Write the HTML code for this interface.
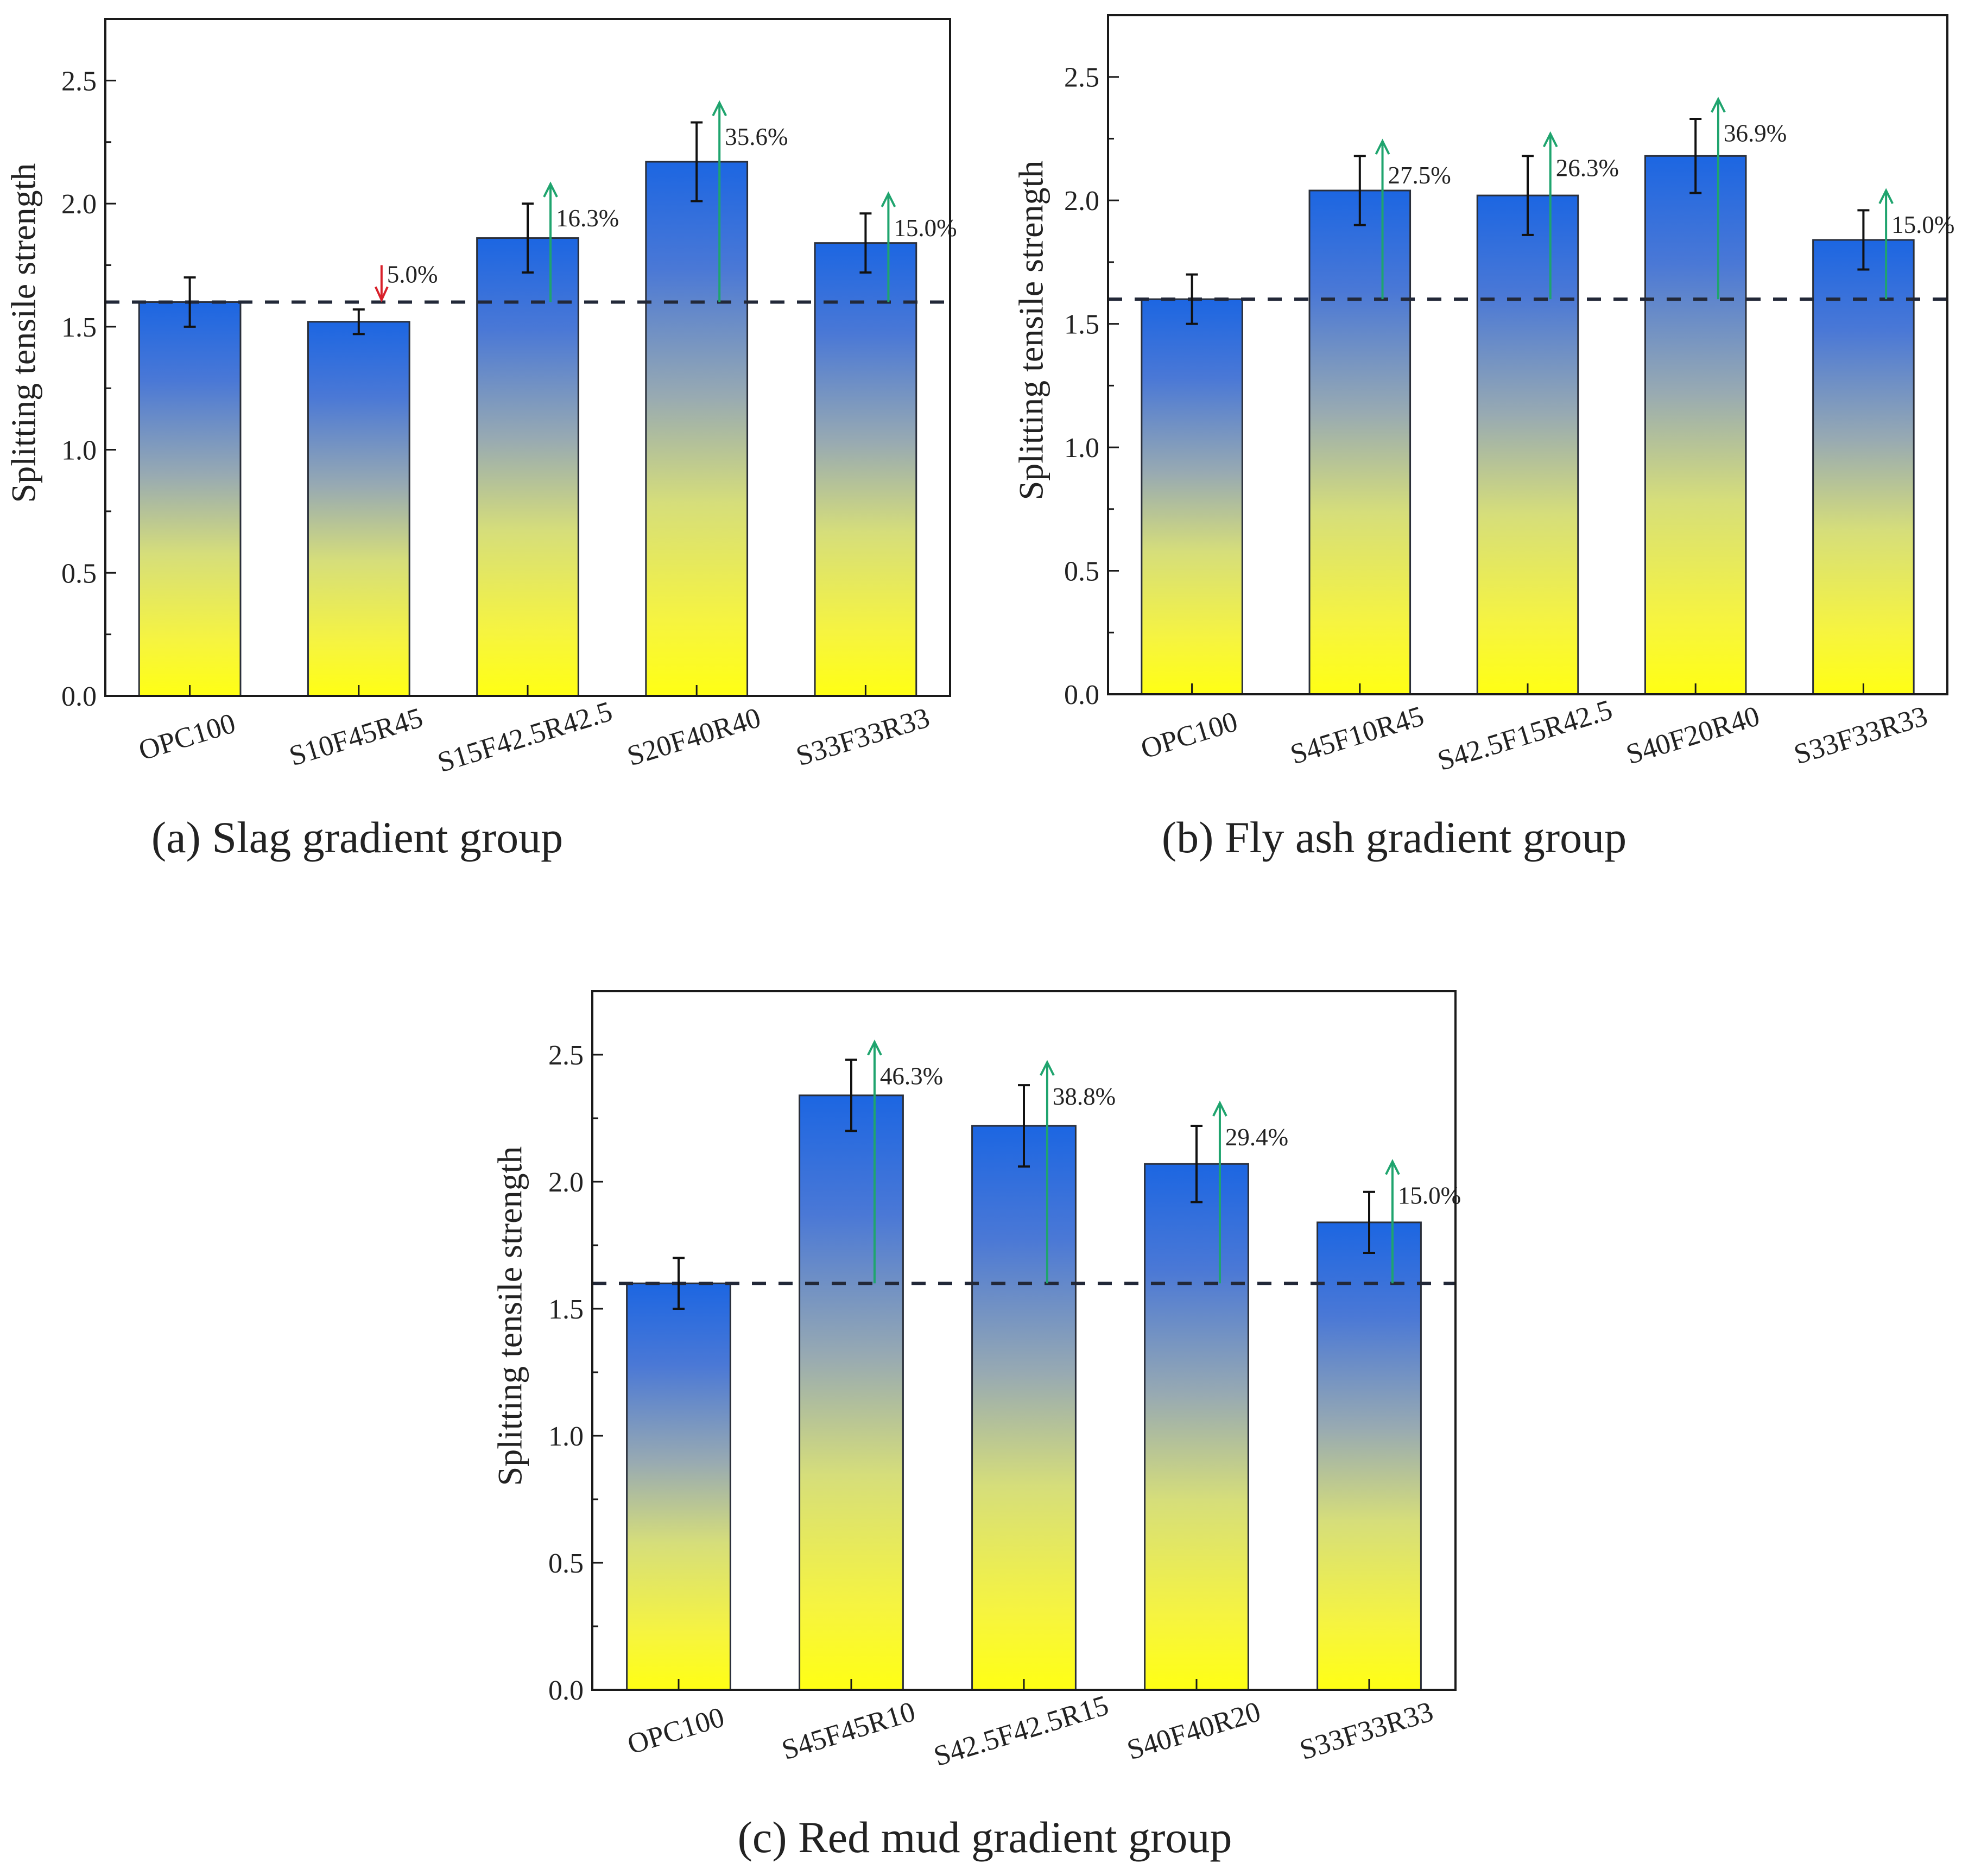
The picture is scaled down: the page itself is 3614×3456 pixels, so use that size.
<!DOCTYPE html>
<html><head><meta charset="utf-8"><style>
html,body{margin:0;padding:0;background:#fff;}
svg{display:block;}
text{font-family:"Liberation Serif",serif;fill:#222;}
</style></head><body>
<svg id="fig" width="3614" height="3456" viewBox="0 0 3614 3456" xmlns="http://www.w3.org/2000/svg">
<defs>
<linearGradient id="barGrad" x1="0" y1="0" x2="0" y2="1">
<stop offset="0" stop-color="#1c66e2"/>
<stop offset="0.2" stop-color="#4a78d6"/>
<stop offset="0.44" stop-color="#98aab2"/>
<stop offset="0.64" stop-color="#d6de7a"/>
<stop offset="0.86" stop-color="#f6f440"/>
<stop offset="1" stop-color="#ffff14"/>
</linearGradient>
</defs>
</svg>
<script>
// ---- data ----
const catsA = ["OPC100","S10F45R45","S15F42.5R42.5","S20F40R40","S33F33R33"];
const valsA = [1.60,1.52,1.86,2.17,1.84];
const errsA = [0.10,0.05,0.14,0.16,0.12];
const pctA  = ["","5.0%","16.3%","35.6%","15.0%"];
const arrowTopA = [null,1.75,2.08,2.41,2.04];

const catsB = ["OPC100","S45F10R45","S42.5F15R42.5","S40F20R40","S33F33R33"];
const valsB = [1.60,2.04,2.02,2.18,1.84];
const errsB = [0.10,0.14,0.16,0.15,0.12];
const pctB  = ["","27.5%","26.3%","36.9%","15.0%"];
const arrowTopB = [null,2.24,2.27,2.41,2.04];

const catsC = ["OPC100","S45F45R10","S42.5F42.5R15","S40F40R20","S33F33R33"];
const valsC = [1.60,2.34,2.22,2.07,1.84];
const errsC = [0.10,0.14,0.16,0.15,0.12];
const pctC  = ["","46.3%","38.8%","29.4%","15.0%"];
const arrowTopC = [null,2.55,2.47,2.31,2.08];

const yTicks = [0,0.5,1.0,1.5,2.0,2.5];
const yTickLabels = ["0.0","0.5","1.0","1.5","2.0","2.5"];
const baseline = 1.6;
const yMax = 2.75;

const NS = "http://www.w3.org/2000/svg";
const svg = document.getElementById('fig');
function mk(tag, attrs, parent){
  const e = document.createElementNS(NS, tag);
  for (const k in attrs) e.setAttribute(k, attrs[k]);
  (parent||svg).appendChild(e);
  return e;
}

function panel(key, L, R, T, B, cats, vals, errs, pcts, tops, titleX, caption, capX, capY){
  const g = mk('g', {});
  
  
  const n = cats.length;
  const xs = i => L + (i + 0.5) * (R - L) / n;
  const ys = v => B - v * (B - T) / yMax;
  const bw = 0.6 * (R - L) / n;
  const aoff = 0.135 * (R - L) / n;

  for (let i = 0; i < n; i++){
    const r = mk('rect', {x: xs(i)-bw/2, y: ys(vals[i]), width: bw, height: B - ys(vals[i]), fill: 'url(#barGrad)', stroke: '#2a2f3a', 'stroke-width': 3}, g);
    
    
  }
  const dl = mk('line', {x1: L, x2: R, y1: ys(baseline), y2: ys(baseline), stroke: '#222838', 'stroke-width': 6, 'stroke-dasharray': '26 23'}, g);
  
  
  for (let i = 0; i < n; i++){
    const eg = mk('g', {stroke: '#111', 'stroke-width': 4}, g);
    
    
    const cx = xs(i);
    mk('line', {x1: cx, x2: cx, y1: ys(vals[i]+errs[i]), y2: ys(vals[i]-errs[i])}, eg);
    mk('line', {x1: cx-11, x2: cx+11, y1: ys(vals[i]+errs[i]), y2: ys(vals[i]+errs[i])}, eg);
    mk('line', {x1: cx-11, x2: cx+11, y1: ys(vals[i]-errs[i]), y2: ys(vals[i]-errs[i])}, eg);
  }
  for (let i = 0; i < n; i++){
    if (tops[i] === null) continue;
    const ax = xs(i) + aoff;
    const down = vals[i] < baseline;
    const col = down ? '#d8202a' : '#1fa46e';
    const ag = mk('g', {stroke: col, 'stroke-width': 4, fill: 'none'}, g);
    
    
    if (down){
      const y1 = ys(tops[i]), y2 = ys(baseline) - 4;
      mk('line', {x1: ax, x2: ax, y1: y1, y2: y2}, ag);
      mk('polyline', {points: `${ax-11},${y2-24} ${ax},${y2} ${ax+11},${y2-24}`}, ag);
    } else {
      const y1 = ys(baseline), y2 = ys(tops[i]);
      mk('line', {x1: ax, x2: ax, y1: y1, y2: y2}, ag);
      mk('polyline', {points: `${ax-12},${y2+24} ${ax},${y2} ${ax+12},${y2+24}`}, ag);
    }
    const t = mk('text', {x: ax + 10, y: ys(tops[i]) + (down ? 32 : 78), 'font-size': 45}, g);
    t.textContent = pcts[i];
    
    
  }
  const fr = mk('rect', {x: L, y: T, width: R-L, height: B-T, fill: 'none', stroke: '#1a1a1a', 'stroke-width': 4}, g);
  
  
  for (let v = 0; v <= 2.5001; v += 0.25){
    const major = Math.abs(v*2 - Math.round(v*2)) < 1e-6;
    mk('line', {x1: L, x2: L + (major ? 20 : 11), y1: ys(v), y2: ys(v), stroke: '#1a1a1a', 'stroke-width': 3}, g);
  }
  for (let j = 0; j < yTicks.length; j++){
    const t = mk('text', {x: L - 16, y: ys(yTicks[j]) + 18, 'font-size': 52, 'text-anchor': 'end'}, g);
    t.textContent = yTickLabels[j];
    
    
  }
  for (let i = 0; i < n; i++){
    mk('line', {x1: xs(i), x2: xs(i), y1: B, y2: B - 20, stroke: '#1a1a1a', 'stroke-width': 3}, g);
    const tx = xs(i), ty = B + 92;
    const t = mk('text', {x: tx, y: ty, 'font-size': 53, 'text-anchor': 'middle', transform: `rotate(-17 ${tx} ${ty})`}, g);
    t.textContent = cats[i];
    
    
  }
  const ty = (T + B) / 2 - 45;
  const yt = mk('text', {x: titleX, y: ty, 'font-size': 64, 'text-anchor': 'middle', transform: `rotate(-90 ${titleX} ${ty})`, 'dominant-baseline': 'middle'}, g);
  yt.textContent = 'Splitting tensile strength';
  
  
  const c = mk('text', {x: capX, y: capY, 'font-size': 82, 'text-anchor': 'middle'}, g);
  c.textContent = caption;
  
  
}

panel('a', 194, 1750, 35, 1282, catsA, valsA, errsA, pctA, arrowTopA, 50, '(a) Slag gradient group', 658, 1570);
panel('b', 2041, 3587, 28, 1279, catsB, valsB, errsB, pctB, arrowTopB, 1906, '(b) Fly ash gradient group', 2568, 1570);
panel('c', 1091, 2681, 1826, 3113, catsC, valsC, errsC, pctC, arrowTopC, 946, '(c) Red mud gradient group', 1814, 3412);
</script>
</body></html>
